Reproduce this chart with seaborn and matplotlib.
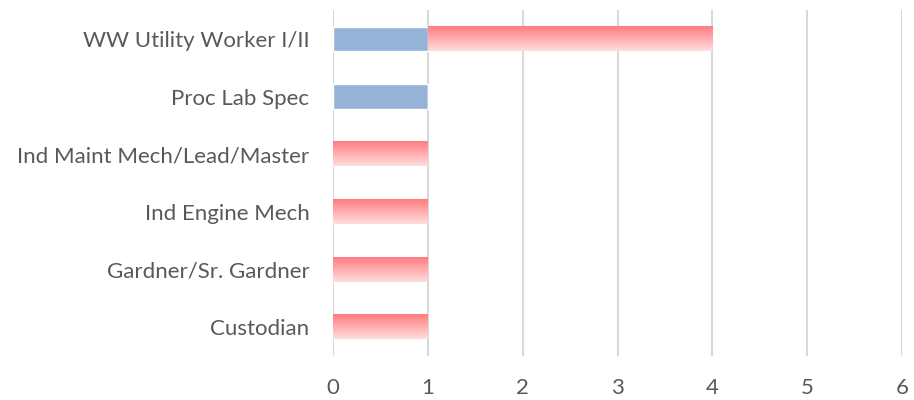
import numpy as np
import pandas as pd
import matplotlib
matplotlib.use("Agg")
import matplotlib.pyplot as plt
import seaborn as sns
from matplotlib.colors import LinearSegmentedColormap

categories = ["WW Utility Worker I/II", "Proc Lab Spec", "Ind Maint Mech/Lead/Master",
              "Ind Engine Mech", "Gardner/Sr. Gardner", "Custodian"]
blue_values = [1, 1, 0, 0, 0, 0]
red_values = [3, 0, 1, 1, 1, 1]
x_ticks = [0, 1, 2, 3, 4, 5, 6]

sns.set_theme(style="white")
plt.rcParams['font.family'] = ['Lato', 'DejaVu Sans']

df = pd.DataFrame({"cat": categories, "blue": blue_values, "red": red_values})

fig = plt.figure(figsize=(9.14, 4.0), dpi=100)
ax = fig.add_axes([333 / 914, 1 - 356 / 400, (902 - 333) / 914, 346 / 400])

# blue segment first
sns.barplot(data=df, x="blue", y="cat", color="#95B3D7", saturation=1, width=0.42, ax=ax)
n_blue = len(ax.patches)
# red segment stacked after blue
sns.barplot(data=df, x="red", y="cat", color="#FF7C80", saturation=1, width=0.42, ax=ax,
            left=df["blue"])

# gradient fill on red bars
cmap = LinearSegmentedColormap.from_list("redgrad", ["#FF7C80", "#FFDEDE"])
grad = np.linspace(0, 1, 256).reshape(-1, 1)
for p in ax.patches[n_blue:]:
    w = p.get_width()
    if w <= 0:
        continue
    x0, y0 = p.get_x(), p.get_y()
    h = p.get_height()
    ax.imshow(grad, cmap=cmap, aspect="auto", extent=(x0, x0 + w, y0 + h, y0),
              origin="upper", zorder=p.get_zorder())
    p.set_visible(False)

ax.set_xlim(0, 6)
ax.set_ylim(5.5, -0.5)
ax.set_xticks(x_ticks)
ax.set_xticklabels([str(t) for t in x_ticks])
ax.xaxis.grid(True, color="#D9D9D9", linewidth=1.5)
ax.set_axisbelow(True)
for s in ax.spines.values():
    s.set_visible(False)
ax.set_xlabel("")
ax.set_ylabel("")
ax.tick_params(axis="both", length=0, labelsize=16, colors="#595959")
ax.tick_params(axis="x", pad=16)
ax.tick_params(axis="y", pad=17)

fig.savefig("out.png", dpi=100)
